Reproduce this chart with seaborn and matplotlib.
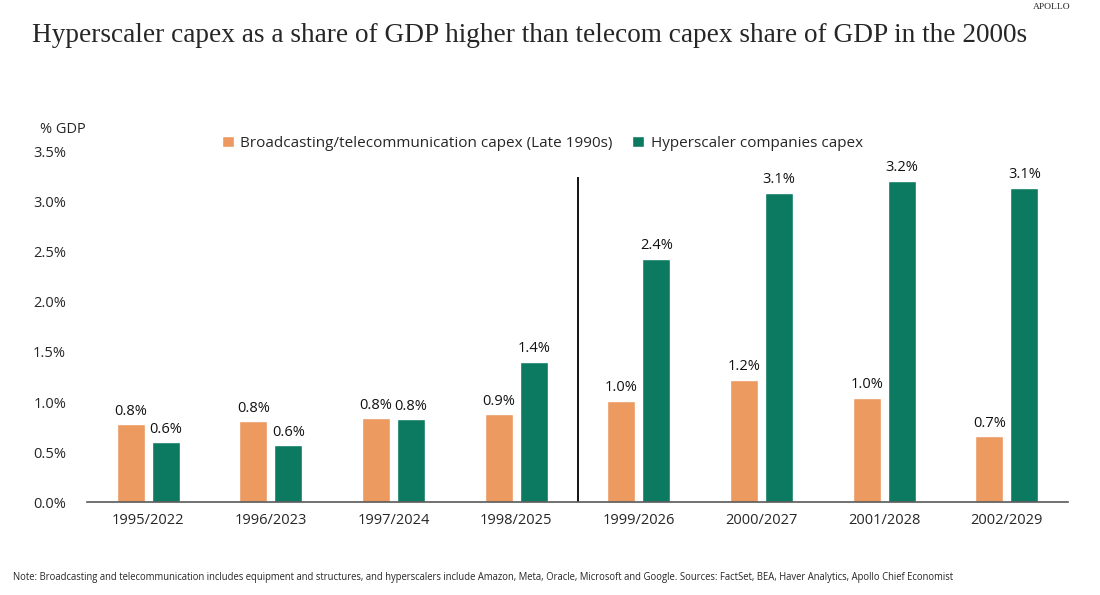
import numpy as np
import pandas as pd
import seaborn as sns
import matplotlib.pyplot as plt

# data
years = ["1995/2022", "1996/2023", "1997/2024", "1998/2025",
         "1999/2026", "2000/2027", "2001/2028", "2002/2029"]
telecom = [0.78, 0.81, 0.84, 0.88, 1.01, 1.22, 1.04, 0.66]
hyperscaler = [0.60, 0.57, 0.83, 1.40, 2.43, 3.09, 3.21, 3.14]
series_names = ["Broadcasting/telecommunication capex (Late 1990s)",
                "Hyperscaler companies capex"]
yticks = [0.0, 0.5, 1.0, 1.5, 2.0, 2.5, 3.0, 3.5]

df = pd.DataFrame({
    "year": years * 2,
    "value": telecom + hyperscaler,
    "series": [series_names[0]] * len(years) + [series_names[1]] * len(years),
})

sns.set_style("white")
plt.rcParams["font.family"] = ["Open Sans", "DejaVu Sans"]

fig = plt.figure(figsize=(11, 5.95), dpi=100)
ax = fig.add_axes([0.079, 0.156, 0.892, 0.589])

palette = {series_names[0]: "#EC9A60", series_names[1]: "#0B7A61"}
sns.barplot(data=df, x="year", y="value", hue="series", palette=palette,
            width=0.57, gap=0.2, saturation=1, ax=ax)

for cont in ax.containers:
    ax.bar_label(cont, labels=[f"{v:.1f}%" for v in cont.datavalues],
                 padding=4, fontsize=10.5, color="#111111")

# separator between the two eras
ax.vlines(3.5, 0, 3.25, color="black", lw=1.3)

ax.set_ylim(0, 3.5)
ax.set_xlim(-0.5, len(years) - 0.5)
ax.set_yticks(yticks)
ax.set_yticklabels([f"{t:.1f}%" for t in yticks], fontsize=10.5)
ax.tick_params(axis="y", length=0, pad=15)
ax.tick_params(axis="x", length=0, pad=8, labelsize=10.5)
ax.set_xlabel("")
ax.set_ylabel("")
for s in ["top", "right", "left"]:
    ax.spines[s].set_visible(False)
ax.spines["bottom"].set_color("#595959")
ax.spines["bottom"].set_linewidth(1.2)

ax.legend(loc="center", bbox_to_anchor=(0.464, 1.024), ncol=2, frameon=False,
          fontsize=11, handlelength=0.8, handleheight=0.8, handletextpad=0.4,
          columnspacing=1.3, borderaxespad=0, borderpad=0)

fig.text(0.036, 0.782, "% GDP", fontsize=10.5, ha="left", va="center")
fig.text(0.029, 0.941, "Hyperscaler capex as a share of GDP higher than telecom capex share of GDP in the 2000s",
         fontsize=19.6, family="Liberation Serif", ha="left", va="center")
fig.text(0.973, 0.988, "APOLLO", fontsize=6.8, family="Liberation Serif",
         ha="right", va="center")
fig.text(0.012, 0.03,
         "Note: Broadcasting and telecommunication includes equipment and structures, and hyperscalers include "
         "Amazon, Meta, Oracle, Microsoft and Google. Sources: FactSet, BEA, Haver Analytics, Apollo Chief Economist",
         fontsize=6.85, ha="left", va="center")

fig.savefig("out.png", dpi=100)
